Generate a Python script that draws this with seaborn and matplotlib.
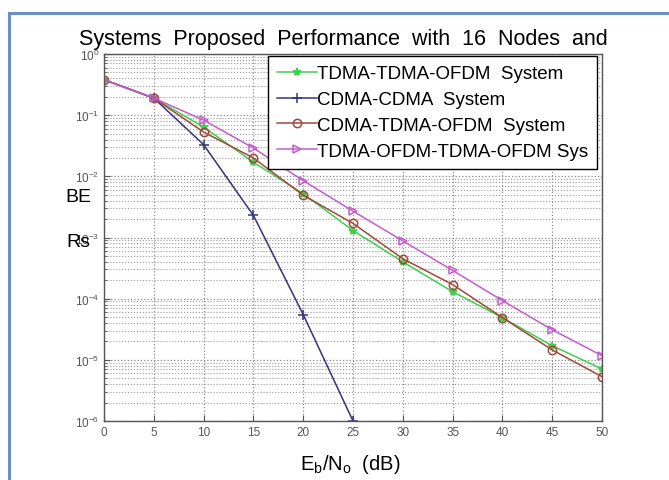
import numpy as np
import pandas as pd
import matplotlib
matplotlib.use("Agg")
import matplotlib.pyplot as plt
import seaborn as sns
from matplotlib.lines import Line2D
from matplotlib.ticker import LogLocator, NullFormatter

# ---- data ----
ebno = [0, 5, 10, 15, 20, 25, 30, 35, 40, 45, 50]
tdma_tdma_ofdm = [0.38, 0.19, 0.064, 0.017, 0.0052, 0.0013, 4.0e-4, 1.3e-4, 4.9e-5, 1.7e-5, 7.1e-6]
cdma_cdma = [0.38, 0.19, 0.033, 0.0023, 5.5e-5, 1.0e-6]
cdma_tdma_ofdm = [0.38, 0.19, 0.053, 0.020, 0.0049, 0.0017, 4.5e-4, 1.7e-4, 4.9e-5, 1.45e-5, 5.3e-6]
tdma_ofdm_tdma_ofdm = [0.38, 0.19, 0.083, 0.029, 0.0085, 0.0027, 8.8e-4, 2.9e-4, 9.3e-5, 3.1e-5, 1.17e-5]
labels = ["TDMA-TDMA-OFDM  System", "CDMA-CDMA  System",
          "CDMA-TDMA-OFDM  System", "TDMA-OFDM-TDMA-OFDM Sys"]
title = "Systems  Proposed  Performance  with  16  Nodes  and"

plt.rcParams['font.family'] = ['Liberation Sans', 'DejaVu Sans']
plt.rcParams['mathtext.fontset'] = 'custom'
plt.rcParams['mathtext.rm'] = 'Liberation Sans'
plt.rcParams['mathtext.it'] = 'Liberation Sans:italic'

W, H = 669, 481
fig = plt.figure(figsize=(W / 100, H / 100), dpi=100)
fig.patch.set_facecolor('white')
ax = fig.add_axes([104 / W, 1 - 422 / H, (602 - 104) / W, (422 - 55) / H])

series = [
    (tdma_tdma_ofdm, '#3fcf4f', '*', 6, '#3fcf4f'),
    (cdma_cdma, '#33337f', '+', 7, '#33337f'),
    (cdma_tdma_ofdm, '#a0483a', 'o', 6, 'none'),
    (tdma_ofdm_tdma_ofdm, '#c55ccc', '>', 6, 'none'),
]
for (vals, col, mk, ms, fc), lab in zip(series, labels):
    df = pd.DataFrame({'x': ebno[:len(vals)], 'y': vals})
    sns.lineplot(data=df, x='x', y='y', ax=ax, color=col, marker=mk,
                 markersize=ms, markerfacecolor=fc, markeredgecolor=col,
                 markeredgewidth=1.1, linewidth=1.1, label=lab)

ax.set_yscale('log')
ax.set_xlim(0, 50)
ax.set_ylim(1e-6, 1)
ax.set_xticks(range(0, 51, 5))
ax.yaxis.set_major_locator(LogLocator(base=10, numticks=10))
ax.yaxis.set_minor_locator(LogLocator(base=10, subs=np.arange(2, 10), numticks=20))
ax.yaxis.set_minor_formatter(NullFormatter())
ax.grid(True, which='major', axis='both', linestyle=':', color='#8a8a8a', linewidth=0.9)
ax.grid(True, which='minor', axis='y', linestyle=':', color='#9a9a9a', linewidth=0.8)
ax.tick_params(axis='both', which='both', direction='in', labelsize=8.5,
               labelcolor='#555555', color='#555555', top=False, right=False)
ax.tick_params(which='major', length=4)
ax.tick_params(which='minor', length=2)
for s in ax.spines.values():
    s.set_color('#555555')
    s.set_linewidth(1.0)
ax.set_xlabel('')
ax.set_ylabel('')

leg = ax.legend(loc='upper left', bbox_to_anchor=(268 / W, 1 - 57 / H),
                bbox_transform=fig.transFigure, fontsize=13.5, frameon=True,
                fancybox=False, framealpha=1, edgecolor='black',
                handlelength=2.1, handletextpad=0.0, labelspacing=0.46,
                borderpad=0.5, borderaxespad=0)
leg.get_frame().set_linewidth(1.0)

fig.text(343 / W, 1 - 45 / H, title, ha='center', va='baseline', fontsize=15.5)
fig.text(65 / W, 1 - 202 / H, 'BE', ha='left', va='baseline', fontsize=14)
fig.text(66 / W, 1 - 247 / H, 'Rs', ha='left', va='baseline', fontsize=14)
fig.text(350 / W, 1 - 470 / H, r'E$_\mathregular{b}$/N$_\mathregular{o}$  (dB)',
         ha='center', va='baseline', fontsize=14.5)

# blue frame of the picture
fig.add_artist(Line2D([9 / W, 9 / W], [0, 1 - 14 / H], color='#6b8fc9', lw=2.2,
                      transform=fig.transFigure))
fig.add_artist(Line2D([9 / W, 1], [1 - 14 / H, 1 - 14 / H], color='#6b8fc9', lw=2.2,
                      transform=fig.transFigure))

fig.savefig('out.png', dpi=100, facecolor='white')
